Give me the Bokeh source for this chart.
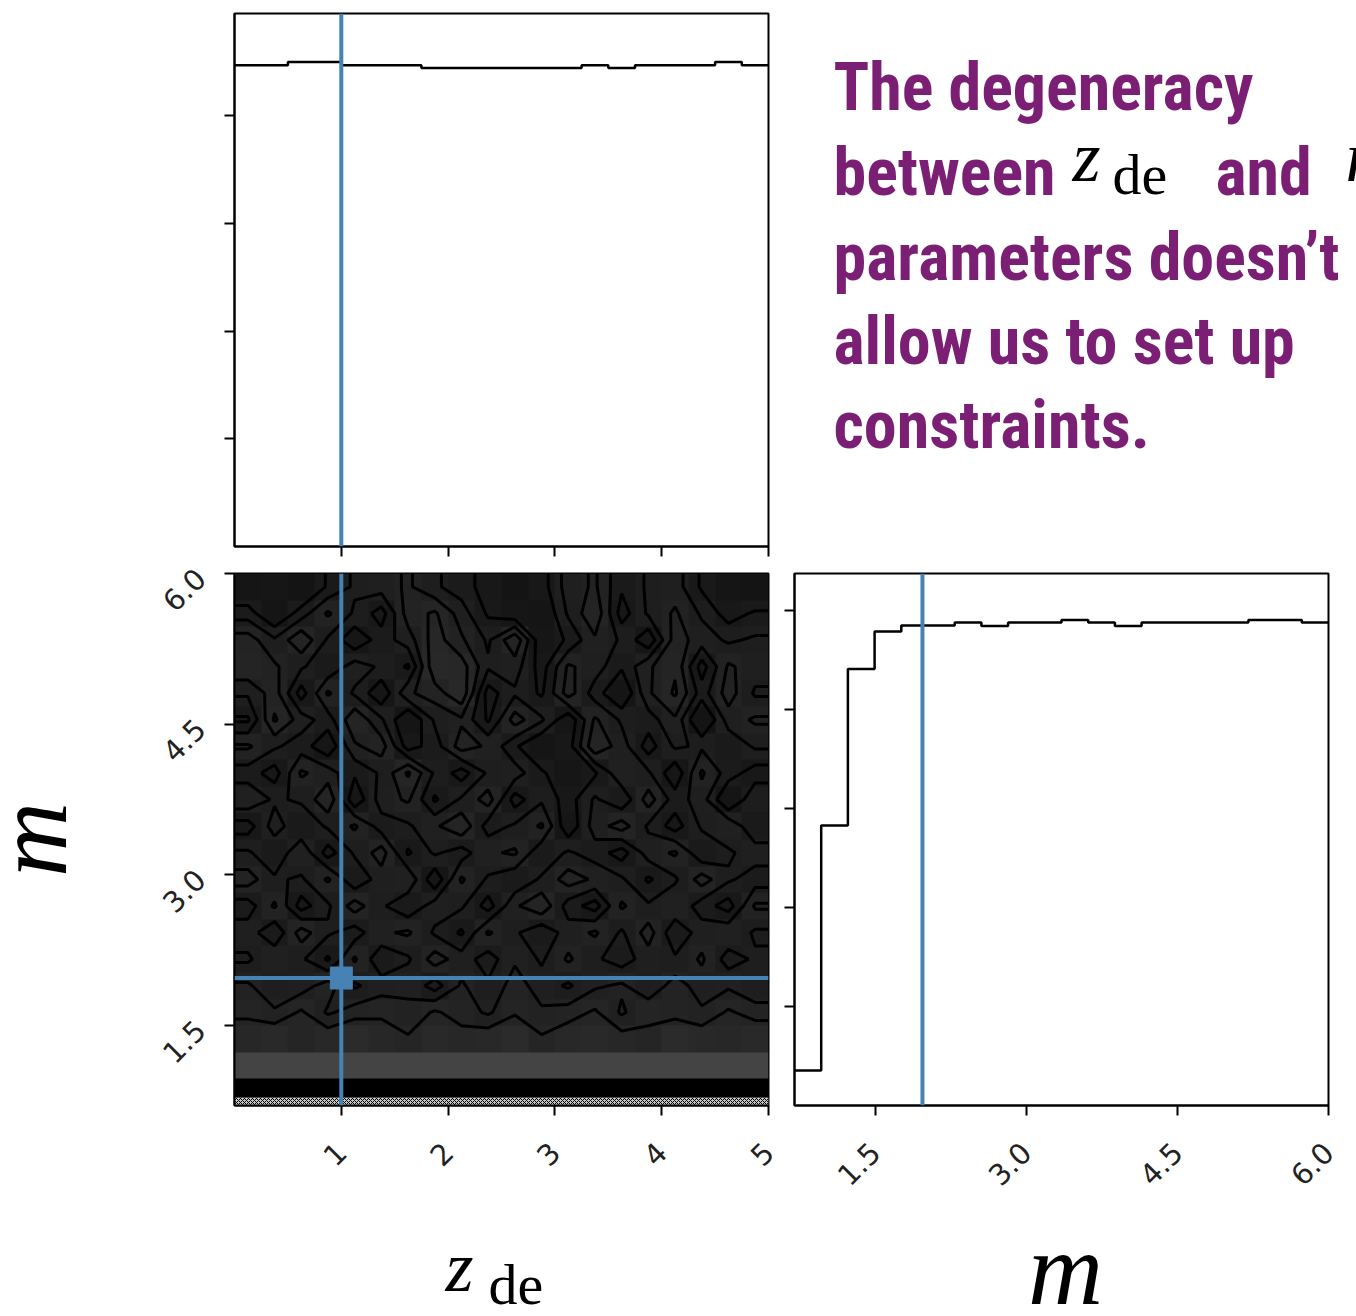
import numpy as np
from bokeh.plotting import figure
from bokeh.layouts import gridplot
from bokeh.models import Range1d, FixedTicker, Span, LinearColorMapper, NumeralTickFormatter
from bokeh.core.properties import value
from bokeh.embed import file_html
from bokeh.resources import INLINE

# ---- parameters: prior ranges and injected (true) values ----
zde_lim = (0.0, 5.0)
m_lim = (0.7, 6.0)
zde_true = 1.0
m_true = 1.97

# ---- 1D marginal histograms (20 bins over each prior range) ----
zde_counts = [4470, 4470, 4500, 4500, 4470, 4470, 4470, 4445, 4445, 4445,
              4445, 4445, 4445, 4470, 4445, 4470, 4470, 4470, 4500, 4470]
m_counts = [354, 2830, 4410, 4790, 4850, 4850, 4880, 4845, 4880, 4880,
            4905, 4880, 4845, 4880, 4880, 4880, 4880, 4905, 4905, 4880]

# ---- 2D histogram of (z_de, m), rows listed from the top m bin down ----
hist2d_top_down = [
    [57, 56, 58, 53, 50, 49, 47, 50, 52, 55, 58, 55, 49, 47, 53, 50, 49, 54, 57, 58],
    [52, 57, 52, 47, 51, 55, 46, 44, 49, 54, 56, 57, 50, 45, 55, 50, 47, 51, 55, 53],
    [46, 50, 45, 51, 56, 52, 49, 43, 47, 51, 45, 56, 53, 48, 51, 56, 46, 49, 51, 50],
    [45, 47, 50, 53, 49, 51, 54, 42, 43, 50, 49, 55, 47, 49, 53, 48, 45, 55, 47, 49],
    [50, 46, 55, 47, 51, 56, 48, 46, 42, 55, 51, 54, 46, 52, 57, 48, 44, 52, 46, 51],
    [54, 44, 49, 52, 45, 50, 57, 50, 48, 54, 46, 50, 56, 47, 51, 52, 48, 58, 49, 47],
    [47, 50, 52, 56, 48, 46, 55, 52, 46, 48, 53, 57, 55, 45, 49, 55, 50, 51, 53, 50],
    [52, 55, 47, 49, 53, 50, 44, 51, 55, 50, 49, 53, 56, 54, 48, 50, 56, 47, 52, 55],
    [48, 51, 50, 45, 56, 49, 47, 54, 50, 46, 55, 51, 55, 50, 53, 46, 52, 49, 57, 51],
    [55, 49, 53, 50, 47, 52, 51, 48, 45, 52, 50, 47, 56, 49, 46, 51, 55, 50, 48, 53],
    [50, 53, 48, 55, 50, 46, 54, 50, 52, 48, 47, 53, 50, 52, 55, 49, 47, 53, 51, 49],
    [46, 50, 51, 47, 53, 49, 48, 56, 47, 51, 53, 50, 46, 48, 50, 54, 51, 46, 50, 52],
    [52, 47, 55, 51, 46, 50, 53, 49, 50, 55, 48, 45, 52, 55, 47, 50, 48, 52, 55, 47],
    [49, 53, 46, 50, 52, 48, 47, 51, 54, 47, 50, 53, 49, 47, 51, 46, 53, 49, 48, 51],
    [51, 48, 50, 54, 47, 53, 51, 46, 49, 52, 48, 51, 47, 50, 52, 49, 50, 47, 52, 50],
    [47, 50, 49, 46, 51, 49, 48, 52, 47, 50, 46, 49, 51, 48, 47, 50, 46, 49, 48, 50],
    [45, 47, 44, 48, 46, 45, 47, 44, 46, 48, 45, 47, 46, 44, 48, 45, 46, 47, 44, 46],
    [43, 41, 44, 42, 40, 43, 44, 41, 43, 42, 40, 44, 42, 41, 43, 44, 40, 42, 43, 41],
    [28, 28, 28, 28, 28, 28, 28, 28, 28, 28, 28, 28, 28, 28, 28, 28, 28, 28, 28, 28],
    [3, 3, 3, 3, 3, 3, 3, 3, 3, 3, 3, 3, 3, 3, 3, 3, 3, 3, 3, 3],
]
contour_levels = [44.5, 47.5, 50.5, 53.5]
# thin band of individual low-m samples along the lower prior edge
sample_band = (0.70, 0.78)

# ---- tick values ----
zde_ticks = [1, 2, 3, 4, 5]
m_ticks = [1.5, 3.0, 4.5, 6.0]
count_ticks_top = [1000, 2000, 3000, 4000]
count_ticks_right = [1000, 2000, 3000, 4000, 5000]

# ---- annotation text ----
note_lines = ["The degeneracy", "between", "parameters doesn\u2019t", "allow us to set up", "constraints."]
note_and = "and"

TRUTH = "#4682b4"
PURPLE = "#7b1f74"
NOTE_FONT = "Roboto Condensed, Roboto"
NOTE_SIZE = 66
TICK_FONT = "DejaVu Sans"
MATH_FONT = "Liberation Serif"
# distance from a text anchor down to the drawn baseline, as a fraction of font size
NOTE_DROP = 0.375
MATH_DROP = 0.36

zde_edges = np.linspace(zde_lim[0], zde_lim[1], len(zde_counts) + 1)
m_edges = np.linspace(m_lim[0], m_lim[1], len(m_counts) + 1)


def make_fig(width, height, x_range, y_range, left, right, top, bottom):
    p = figure(width=width, height=height, x_range=x_range, y_range=y_range,
               toolbar_location=None, output_backend="svg",
               min_border_left=left, min_border_right=right,
               min_border_top=top, min_border_bottom=bottom)
    p.grid.visible = False
    p.outline_line_color = "black"
    p.outline_line_width = 2
    p.background_fill_color = "white"
    p.border_fill_color = "white"
    for ax in p.axis:
        ax.axis_line_width = 2
        ax.axis_line_color = "black"
        ax.major_tick_line_width = 2
        ax.major_tick_line_color = "black"
        ax.major_tick_out = 10
        ax.major_tick_in = 0
        ax.minor_tick_line_color = None
        ax.major_label_text_font = TICK_FONT
        ax.major_label_text_font_size = "29px"
        ax.major_label_text_color = "#222222"
    return p


def hide_labels(ax):
    # tick marks only, no tick labels
    ax.major_label_text_font_size = "1px"
    ax.major_label_text_color = None
    ax.major_label_standoff = 0


def text_panel(width, height, flip=False):
    yr = Range1d(height, 0) if flip else Range1d(0, height)
    p = figure(width=width, height=height, x_range=Range1d(0, width), y_range=yr,
               x_axis_type=None, y_axis_type=None, toolbar_location=None,
               output_backend="svg", min_border=0)
    p.frame_align = False
    p.outline_line_color = None
    p.grid.visible = False
    p.background_fill_color = "white"
    p.border_fill_color = "white"
    return p


# ---- top-left: z_de marginal ----
p_top = make_fig(671, 560, Range1d(*zde_lim), Range1d(0, 4950), 124, 13, 13, 14)
p_top.xaxis.ticker = FixedTicker(ticks=zde_ticks)
p_top.yaxis.ticker = FixedTicker(ticks=count_ticks_top)
hide_labels(p_top.xaxis[0])
hide_labels(p_top.yaxis[0])
p_top.step(x=list(zde_edges), y=zde_counts + [zde_counts[-1]], mode="after",
           line_color="black", line_width=2.5)
p_top.add_layout(Span(location=zde_true, dimension="height", line_color=TRUTH, line_width=4))

# ---- top-right: annotation (y measured downward from the panel top) ----
p_text = text_panel(575, 560, flip=True)
baselines = np.array([112, 197, 282, 366, 450])
note_drop = NOTE_DROP * NOTE_SIZE
p_text.text(x=[52] * len(note_lines), y=list(baselines - note_drop), text=note_lines,
            text_font=value(NOTE_FONT), text_font_style="bold",
            text_font_size=f"{NOTE_SIZE}px", text_color=PURPLE, text_baseline="alphabetic")
p_text.text(x=[434], y=[197 - note_drop], text=[note_and], text_font=value(NOTE_FONT),
            text_font_style="bold", text_font_size=f"{NOTE_SIZE}px", text_color=PURPLE,
            text_baseline="alphabetic")
p_text.text(x=[291], y=[182 - MATH_DROP * 72], text=["z"], text_font=value(MATH_FONT),
            text_font_style="italic", text_font_size="72px", text_color="black",
            text_baseline="alphabetic")
p_text.text(x=[331], y=[195 - MATH_DROP * 58], text=["de"], text_font=value(MATH_FONT),
            text_font_size="58px", text_color="black", text_baseline="alphabetic")
p_text.text(x=[564], y=[182 - MATH_DROP * 72], text=["m"], text_font=value(MATH_FONT),
            text_font_style="italic", text_font_size="72px", text_color="black",
            text_baseline="alphabetic")

# ---- bottom-left: joint distribution ----
p_2d = make_fig(671, 675, Range1d(*zde_lim), Range1d(*m_lim), 124, 13, 13, 130)
p_2d.xaxis.ticker = FixedTicker(ticks=zde_ticks)
p_2d.yaxis.ticker = FixedTicker(ticks=m_ticks)
p_2d.yaxis.formatter = NumeralTickFormatter(format="0.0")
p_2d.xaxis.major_label_orientation = np.pi / 4
p_2d.yaxis.major_label_orientation = np.pi / 4
p_2d.xaxis.major_label_standoff = 32
p_2d.yaxis.major_label_standoff = 24

hist2d = np.array(hist2d_top_down[::-1], dtype=float)

# gray ramp: light for sparse bins, near-black for dense ones
lo, knee, hi = 28.0, 41.0, 60.0
ramp_vals = lo + (np.arange(96) + 0.5) * (hi - lo) / 96
ramp = np.where(ramp_vals < knee,
                0x45 + (ramp_vals - lo) / (knee - lo) * (0x2a - 0x45),
                0x2a + (ramp_vals - knee) / (hi - knee) * (0x12 - 0x2a)).astype(int)
grays = [f"#{g:02x}{g:02x}{g:02x}" for g in ramp]
cmap = LinearColorMapper(palette=grays, low=lo, high=hi, low_color="black", high_color="#121212")
p_2d.image(image=[hist2d], x=zde_lim[0], y=m_lim[0], dw=zde_lim[1] - zde_lim[0],
           dh=m_lim[1] - m_lim[0], color_mapper=cmap)
p_2d.quad(left=zde_lim[0], right=zde_lim[1], bottom=sample_band[0], top=sample_band[1],
          fill_color="#c8c8c8", line_color=None, hatch_pattern="x", hatch_color="black",
          hatch_scale=4, hatch_weight=1)

# contours on bin centres, padded out to the panel edges
zc = 0.5 * (zde_edges[:-1] + zde_edges[1:])
mc = 0.5 * (m_edges[:-1] + m_edges[1:])
zc_pad = np.concatenate([[zde_lim[0]], zc, [zde_lim[1]]])
mc_pad = np.concatenate([[m_lim[0]], mc, [m_lim[1]]])
hist_pad = np.pad(hist2d, 1, mode="edge")
p_2d.contour(x=zc_pad, y=mc_pad, z=hist_pad, levels=contour_levels, line_color="black",
             line_width=3, fill_color=None)
p_2d.add_layout(Span(location=zde_true, dimension="height", line_color=TRUTH, line_width=4))
p_2d.add_layout(Span(location=m_true, dimension="width", line_color=TRUTH, line_width=4))
p_2d.scatter([zde_true], [m_true], marker="square", size=22, color=TRUTH)

# ---- bottom-right: m marginal ----
p_m = make_fig(575, 675, Range1d(*m_lim), Range1d(0, 5375), 13, 28, 13, 130)
p_m.xaxis.ticker = FixedTicker(ticks=m_ticks)
p_m.xaxis.formatter = NumeralTickFormatter(format="0.0")
p_m.xaxis.major_label_orientation = np.pi / 4
p_m.xaxis.major_label_standoff = 32
p_m.yaxis.ticker = FixedTicker(ticks=count_ticks_right)
hide_labels(p_m.yaxis[0])
p_m.step(x=list(m_edges), y=m_counts + [m_counts[-1]], mode="after",
         line_color="black", line_width=2.5)
p_m.add_layout(Span(location=m_true, dimension="height", line_color=TRUTH, line_width=4))

# ---- axis titles ----
p_ylab = text_panel(110, 675)
p_ylab.text(x=[67 - MATH_DROP * 104], y=[396], text=["m"], angle=np.pi / 2,
            text_font=value(MATH_FONT), text_font_style="italic", text_font_size="104px",
            text_color="black", text_align="center", text_baseline="alphabetic")

p_zlab = text_panel(671, 81)
p_zlab.text(x=[335], y=[24 + MATH_DROP * 72], text=["z"], text_font=value(MATH_FONT),
            text_font_style="italic", text_font_size="72px", text_color="black",
            text_baseline="alphabetic")
p_zlab.text(x=[378], y=[11 + MATH_DROP * 58], text=["de"], text_font=value(MATH_FONT),
            text_font_size="58px", text_color="black", text_baseline="alphabetic")

p_mlab = text_panel(575, 81)
p_mlab.text(x=[284], y=[11 + MATH_DROP * 104], text=["m"], text_font=value(MATH_FONT),
            text_font_style="italic", text_font_size="104px", text_color="black",
            text_align="center", text_baseline="alphabetic")

layout = gridplot([[None, p_top, p_text],
                   [p_ylab, p_2d, p_m],
                   [None, p_zlab, p_mlab]], toolbar_location=None)

with open("out.html", "w") as f:
    f.write(file_html(layout, INLINE))
